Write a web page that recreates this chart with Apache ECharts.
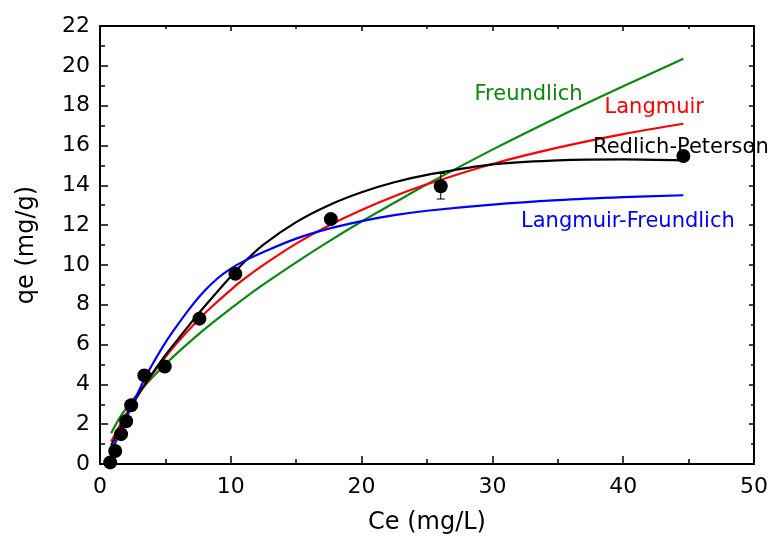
<!DOCTYPE html>
<html>
<head>
<meta charset="utf-8">
<script src="https://cdn.jsdelivr.net/npm/echarts@6/dist/echarts.min.js"></script>
<style>html,body{margin:0;padding:0;background:#fff}#c{width:771px;height:540px}</style>
</head>
<body>
<div id="c"></div>
<script>
// Experimental data (Ce, qe) and error
const ptCe = [0.78, 1.16, 1.61, 2.0, 2.38, 3.39, 4.95, 7.6, 10.35, 17.65, 26.05, 44.6];
const ptQe = [0.08, 0.65, 1.5, 2.15, 2.95, 4.45, 4.9, 7.3, 9.55, 12.3, 13.95, 15.47];
const ptErr = [0, 0, 0, 0, 0, 0, 0.22, 0, 0, 0, 0.64, 0];

// Model curves at these Ce values
const curveCe = [0.85, 1.5, 2, 2.5, 3, 3.5, 4, 5, 6, 7.5, 8.5, 10, 11, 12.5, 15, 17.5, 20, 22.5, 25, 30, 35, 40, 44.6];
const freundlich = [1.55, 2.32, 2.79, 3.22, 3.62, 3.99, 4.35, 5.01, 5.63, 6.50, 7.04, 7.81, 8.31, 9.02, 10.13, 11.18, 12.18, 13.12, 14.05, 15.79, 17.42, 18.97, 20.35];
const langmuir = [1.12, 1.92, 2.49, 3.03, 3.54, 4.03, 4.50, 5.37, 6.16, 7.23, 7.87, 8.75, 9.28, 10.00, 11.07, 11.98, 12.76, 13.45, 14.05, 15.07, 15.89, 16.57, 17.09];
const redlich = [0.93, 1.75, 2.38, 3.04, 3.58, 4.07, 4.55, 5.47, 6.3, 7.53, 8.3, 9.42, 10.12, 11.02, 12.15, 13.0, 13.65, 14.15, 14.52, 15.05, 15.25, 15.3, 15.25];
const lfCe = [0.85, 1.5, 2, 2.5, 3, 3.5, 4, 5, 6, 7, 8, 9, 10, 11, 12.5, 15, 17.5, 20, 22.5, 25, 30, 35, 40, 44.6];
const langFreund = [0.6, 1.55, 2.3, 3.0, 3.72, 4.4, 5.0, 6.1, 7.05, 7.93, 8.7, 9.33, 9.81, 10.19, 10.65, 11.32, 11.82, 12.2, 12.5, 12.72, 13.03, 13.25, 13.4, 13.5];

// Axis settings
const xMin = 0, xMax = 50, xStep = 10;
const yMin = 0, yMax = 22, yStep = 2;
const xTitle = 'Ce (mg/L)';
const yTitle = 'qe (mg/g)';

const FONT = 'DejaVu Sans';
const pair = (xs, ys) => xs.map((x, i) => [x, ys[i]]);

function axisBase(isMain, isX) {
  return {
    type: 'value',
    min: isX ? xMin : yMin,
    max: isX ? xMax : yMax,
    interval: isX ? xStep : yStep,
    axisLine: { show: true, onZero: false, lineStyle: { color: '#000', width: 2 } },
    axisTick: { show: true, inside: true, length: isMain ? 8 : 5, lineStyle: { color: '#000', width: 1.5 } },
    minorTick: { show: true, splitNumber: 2, length: isMain ? 5 : 3, lineStyle: { color: '#000', width: 1.5 } },
    splitLine: { show: false },
    minorSplitLine: { show: false },
    axisLabel: { show: isMain, fontFamily: FONT, fontSize: 22, color: '#000', margin: isX ? 12 : 10 }
  };
}

const chart = echarts.init(document.getElementById('c'), null, { renderer: 'canvas' });

const line = (name, xs, ys, color) => ({
  name, type: 'line', data: pair(xs, ys), smooth: 0.35, showSymbol: false,
  lineStyle: { color, width: 2.2 }, itemStyle: { color }, z: 3, silent: true
});

chart.setOption({
  animation: false,
  backgroundColor: '#fff',
  grid: { left: 100, right: 14, top: 26, bottom: 74 },
  xAxis: [
    Object.assign(axisBase(true, true), {
      position: 'bottom', name: xTitle, nameLocation: 'middle', nameGap: 47,
      nameTextStyle: { fontFamily: FONT, fontSize: 24, color: '#000' }
    }),
    Object.assign(axisBase(false, true), { position: 'top' })
  ],
  yAxis: [
    Object.assign(axisBase(true, false), {
      position: 'left', name: yTitle, nameLocation: 'middle', nameGap: 61,
      nameTextStyle: { fontFamily: FONT, fontSize: 24, color: '#000' }
    }),
    Object.assign(axisBase(false, false), { position: 'right' })
  ],
  series: [
    line('Freundlich', curveCe, freundlich, '#0a8a0a'),
    line('Langmuir', curveCe, langmuir, '#ff0000'),
    line('Redlich-Peterson', curveCe, redlich, '#000000'),
    line('Langmuir-Freundlich', lfCe, langFreund, '#0000ff'),
    {
      type: 'custom', z: 4, silent: true,
      data: ptCe.map((x, i) => [x, ptQe[i], ptErr[i]]).filter(d => d[2] > 0),
      renderItem: function (params, api) {
        const x = api.value(0), y = api.value(1), e = api.value(2);
        const top = api.coord([x, y + e]);
        const bot = api.coord([x, y - e]);
        const cap = 4;
        const st = { stroke: '#000', lineWidth: 1 };
        return {
          type: 'group', children: [
            { type: 'line', shape: { x1: top[0], y1: top[1], x2: bot[0], y2: bot[1] }, style: st },
            { type: 'line', shape: { x1: top[0] - cap, y1: top[1], x2: top[0] + cap, y2: top[1] }, style: st },
            { type: 'line', shape: { x1: bot[0] - cap, y1: bot[1], x2: bot[0] + cap, y2: bot[1] }, style: st }
          ]
        };
      }
    },
    {
      name: 'Experimental', type: 'scatter', data: pair(ptCe, ptQe), symbol: 'circle', symbolSize: 14,
      itemStyle: { color: '#000', opacity: 1 }, z: 5, silent: true
    }
  ],
  graphic: [
    { type: 'text', x: 474.5, y: 84, style: { text: 'Freundlich', fontFamily: FONT, fontSize: 21, fill: '#0a8a0a', verticalAlign: 'top' }, z: 10 },
    { type: 'text', x: 604.5, y: 97, style: { text: 'Langmuir', fontFamily: FONT, fontSize: 21, fill: '#ff0000', verticalAlign: 'top' }, z: 10 },
    { type: 'text', x: 593, y: 137.5, style: { text: 'Redlich-Peterson', fontFamily: FONT, fontSize: 21, fill: '#000', verticalAlign: 'top' }, z: 10 },
    { type: 'text', x: 521, y: 211, style: { text: 'Langmuir-Freundlich', fontFamily: FONT, fontSize: 21, fill: '#0000ff', verticalAlign: 'top' }, z: 10 }
  ]
});
</script>
</body>
</html>
